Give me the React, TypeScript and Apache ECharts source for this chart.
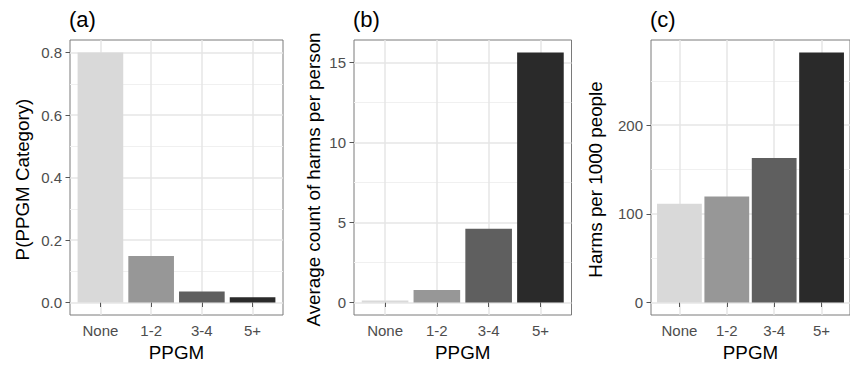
import React, { useEffect, useRef } from "react";
import * as echarts from "echarts";

const categories = ["None", "1-2", "3-4", "5+"];
const probValues = [0.8, 0.149, 0.035, 0.017];
const avgHarmsValues = [0.12, 0.78, 4.62, 15.64];
const harmsPer1000Values = [111.5, 119.6, 163, 282];
const barColors = ["#D9D9D9", "#979797", "#5F5F5F", "#2A2A2A"];

const probTicks = [0, 0.2, 0.4, 0.6, 0.8];
const probMinor = [0.1, 0.3, 0.5, 0.7];
const avgTicks = [0, 5, 10, 15];
const avgMinor = [2.5, 7.5, 12.5];
const perTicks = [0, 100, 200];
const perMinor = [50, 150, 250];

const panelTitles = ["(a)", "(b)", "(c)"];
const yTitles = ["P(PPGM Category)", "Average count of harms per person", "Harms per 1000 people"];
const xTitle = "PPGM";

const FONT = "'Liberation Sans', Arial, Helvetica, sans-serif";
const TOP = 40;
const HEIGHT = 279;

const panels = [
  { left: 70, width: 213, yTitleX: 22, values: probValues, ticks: probTicks, minor: probMinor, fmt: (v: number) => v.toFixed(1) },
  { left: 354, width: 217.5, yTitleX: 313, values: avgHarmsValues, ticks: avgTicks, minor: avgMinor, fmt: (v: number) => String(v) },
  { left: 651, width: 209, yTitleX: 595, values: harmsPer1000Values, ticks: perTicks, minor: perMinor, fmt: (v: number) => String(v) },
];

export default function App() {
  const ref = useRef<HTMLDivElement>(null);
  useEffect(() => {
    if (!ref.current) return;
    const chart = echarts.init(ref.current, undefined, { renderer: "svg" });
    const grid: any[] = [];
    const xAxis: any[] = [];
    const yAxis: any[] = [];
    const series: any[] = [];
    const graphic: any[] = [];
    panels.forEach((p, i) => {
      const maxV = Math.max(...p.values);
      const yMin = -0.05 * maxV;
      const yMax = maxV * 1.05;
      grid.push({
        left: p.left, top: TOP, width: p.width, height: HEIGHT,
        show: true, borderColor: "#7A7A7A", borderWidth: 1, backgroundColor: "#ffffff",
      });
      xAxis.push({
        type: "value", gridIndex: i, min: 0.4, max: 4.6,
        name: xTitle, nameLocation: "middle", nameGap: 28,
        nameTextStyle: { fontFamily: FONT, fontSize: 18.8, color: "#000" },
        axisLine: { show: false },
        axisTick: { show: true, length: 4.5, customValues: [1, 2, 3, 4], lineStyle: { color: "#555", width: 1 } },
        axisLabel: {
          customValues: [1, 2, 3, 4], margin: 8, fontFamily: FONT, fontSize: 15, color: "#4D4D4D",
          formatter: (v: number) => categories[Math.round(v) - 1] ?? "",
        },
        splitLine: { show: true, lineStyle: { color: "#E6E6E6", width: 1.5 } },
      });
      yAxis.push({
        type: "value", gridIndex: i, min: yMin, max: yMax, position: "left",
        axisLine: { show: false },
        axisTick: { show: true, length: 4.5, customValues: p.ticks, lineStyle: { color: "#555", width: 1 } },
        axisLabel: {
          customValues: p.ticks, margin: 8, fontFamily: FONT, fontSize: 15, color: "#4D4D4D",
          formatter: (v: number) => p.fmt(v),
        },
        splitLine: { show: true, lineStyle: { color: "#E6E6E6", width: 1.5 } },
      });
      yAxis.push({
        type: "value", gridIndex: i, min: yMin, max: yMax, position: "left",
        axisLine: { show: false },
        axisTick: { show: false, customValues: p.minor },
        axisLabel: { show: false, customValues: p.minor },
        splitLine: { show: true, lineStyle: { color: "#F0F0F0", width: 1 } },
      });
      series.push({
        type: "bar", xAxisIndex: i, yAxisIndex: i * 2,
        barWidth: (p.width / 4.2) * 0.9,
        data: p.values.map((v, k) => ({ value: [k + 1, v], itemStyle: { color: barColors[k] } })),
      });
      graphic.push({
        type: "text", left: p.left - 1, top: 8,
        style: { text: panelTitles[i], fontFamily: FONT, fontSize: 22, fill: "#000" },
      });
      graphic.push({
        type: "text", x: p.yTitleX, y: TOP + HEIGHT / 2, rotation: Math.PI / 2,
        style: { text: yTitles[i], fontFamily: FONT, fontSize: 18.8, fill: "#000", align: "center", verticalAlign: "middle" },
      });
    });
    chart.setOption({
      animation: false,
      backgroundColor: "#ffffff",
      grid, xAxis, yAxis, series, graphic,
    });
    return () => chart.dispose();
  }, []);
  return <div ref={ref} style={{ position: "fixed", left: 0, top: 0, width: 850, height: 367 }} />;
}
